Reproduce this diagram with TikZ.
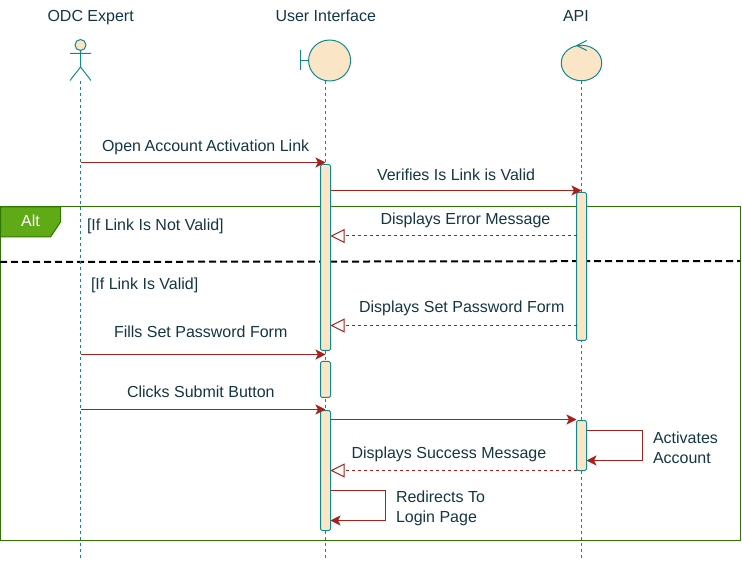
\documentclass[tikz,border=0pt]{standalone}
\usepackage{fontspec}
\setmainfont{Liberation Sans}
\usetikzlibrary{arrows.meta,shapes.geometric}
\definecolor{tealline}{HTML}{0F8B8D}
\definecolor{cream}{HTML}{FAE5C7}
\definecolor{inkblue}{HTML}{143642}
\definecolor{msgred}{HTML}{A8201A}
\definecolor{framegreen}{HTML}{2D7600}
\definecolor{tabgreen}{HTML}{60A917}
\tikzset{
  x=1pt,y=-1pt,
  every node/.style={inner sep=0pt,outer sep=0pt},
  label text/.style={anchor=base west,text=inkblue,font=\fontsize{16}{20}\selectfont},
  lifeline/.style={draw=tealline,line width=1pt,dash pattern=on 3pt off 3pt},
  figure line/.style={draw=tealline,line width=1pt},
  figure body/.style={draw=tealline,fill=cream,line width=1pt},
  barbox/.style={draw=tealline,fill=cream,line width=1pt,rounded corners=1.5pt,minimum width=10pt,anchor=north west},
  call/.style={draw=msgred,line width=1.1pt,-{Stealth[length=10pt,width=10pt,inset=2.5pt]}},
  reply/.style={draw=msgred,line width=1pt,dash pattern=on 3pt off 3pt,-{Triangle[open,length=14pt,width=14pt,fill=white,sep=0pt]}},
}
\begin{document}
\begin{tikzpicture}
\useasboundingbox (0,0) rectangle (742,561);
% frame
\draw[framegreen,line width=1pt] (0.5,207) rectangle (740.5,540.5);
\draw[black,line width=2pt,dash pattern=on 7pt off 4pt] (0,262) -- (740,261);
\filldraw[draw=framegreen,fill=tabgreen,line width=1pt] (0.5,207) -- (60.5,207) -- (60.5,222) -- (50.5,237) -- (0.5,237) -- cycle;
\node[anchor=base,text=white,font=\fontsize{16}{20}\selectfont] (alt) at (30.5,227) {Alt};
% heads
\coordinate (e0) at (80.5,81);
\coordinate (e1) at (80.5,558);
\coordinate (u1) at (325.5,558);
\coordinate (a1) at (581.5,558);
\node[figure body,circle,minimum size=11pt] (head) at (80.5,45) {};
\coordinate (neck) at (80.5,67);
\coordinate (armL) at (70,53.5);
\coordinate (armR) at (91,53.5);
\coordinate (legL) at (70,80.5);
\coordinate (legR) at (91,80.5);
\draw[figure line] (head.south) -- (neck) (armL) -- (armR) (legL) -- (neck) -- (legR);
\draw[lifeline] (e0) -- (e1);
\coordinate (u0) at (325.5,81);
\draw[lifeline] (u0) -- (u1);
\node[figure body,ellipse,minimum width=42pt,minimum height=41pt] (ui) at (329.6,60.5) {};
\coordinate (uiBarT) at (300.5,50.5);
\coordinate (uiBarB) at (300.5,70.5);
\coordinate (uiBarM) at (300.5,60.5);
\draw[figure line] (uiBarT) -- (uiBarB) (uiBarM) -- (ui.west);
\node[figure body,ellipse,minimum width=40.5pt,minimum height=35.5pt] (api) at (581.5,63) {};
\coordinate (ctlA) at (586.7,40.5);
\coordinate (ctlB) at (576.7,45.5);
\coordinate (ctlC) at (586.7,50.5);
\draw[figure line] (ctlA) -- (ctlB) -- (ctlC);
\draw[lifeline] (api.south) -- (a1);
% bars
\node[barbox,minimum height=186pt] (ub1) at (320.5,164.5) {};
\node[barbox,minimum height=36pt] (ub2) at (320.5,361.5) {};
\node[barbox,minimum height=120pt] (ub3) at (320.5,410.5) {};
\node[barbox,minimum height=148pt] (ab1) at (576.5,192.5) {};
\node[barbox,minimum height=50pt] (ab2) at (576.5,420.5) {};
% messages
\draw[call] (e0 |- 0,162.5) -- (u0 |- 0,162.5);
\draw[call] (ub1.east |- 0,190.5) -- (a1 |- 0,190.5);
\draw[reply] (ab1.west |- 0,236) -- (ub1.east |- 0,236);
\draw[reply] (ab1.west |- 0,325.5) -- (ub1.east |- 0,325.5);
\draw[call] (e0 |- 0,354.5) -- (u0 |- 0,354.5);
\draw[call] (e0 |- 0,409.5) -- (u0 |- 0,409.5);
\draw[call] (ub3.east |- 0,419.5) -- (ab2.west |- 0,419.5);
\draw[reply] (ab2.west |- 0,470.5) -- (ub3.east |- 0,470.5);
\draw[call] (ab2.east |- 0,430.5) -- (642.5,430.5) -- (642.5,460.5) -- (ab2.east |- 0,460.5);
\draw[call] (ub3.east |- 0,490.5) -- (385.5,490.5) -- (385.5,520.5) -- (ub3.east |- 0,520.5);
% labels
\node[label text] (t1) at (47.5,22) {ODC Expert};
\node[label text] (t2) at (275.5,22) {User Interface};
\node[label text] (t3) at (563,22) {API};
\node[label text] (t4) at (102,152) {Open\kern-0.9pt{} Account\kern-0.9pt{} Activation Link};
\node[label text] (t5) at (377,181) {Verifies Is Link is Valid};
\node[label text] (t6) at (380.5,225) {Displays Error Message};
\node[label text] (t7) at (87,231) {[If Link Is Not Valid]};
\node[label text] (t8) at (91,290) {[If Link Is Valid]};
\node[label text] (t9) at (359,313) {Displays Set Password Form};
\node[label text] (t10) at (114,338) {Fills Set Password Form};
\node[label text] (t11) at (127,397) {Clicks Submit Button};
\node[label text] (t12) at (351.5,458) {Displays Success Message};
\node[label text] (t13) at (653,443) {Activates};
\node[label text] (t14) at (653,463) {Account};
\node[label text] (t15) at (396,502) {Redirects To};
\node[label text] (t16) at (396,522) {Login Page};
\end{tikzpicture}
\end{document}
